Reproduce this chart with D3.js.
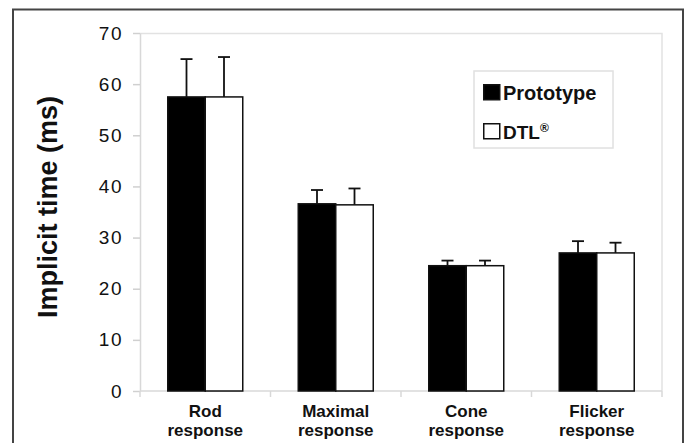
<!DOCTYPE html>
<html>
<head>
<meta charset="utf-8">
<script src="https://cdn.jsdelivr.net/npm/d3@7"></script>
<style>
  body { margin: 0; background: #fff; }
  svg { display: block; font-family: "Liberation Sans", Arial, sans-serif; }
</style>
</head>
<body>
<div id="chart"></div>
<script>
// Data
////////////////////////////////////////////////////////////////////
const categories = [["Rod", "response"], ["Maximal", "response"], ["Cone", "response"], ["Flicker", "response"]];
const series = ["Prototype", "DTL"];
const prototypeMean = [57.5, 36.6, 24.5, 27.0];
const prototypeErr = [64.9, 39.3, 25.5, 29.3];
const dtlMean = [57.5, 36.4, 24.5, 27.0];
const dtlErr = [65.3, 39.6, 25.5, 29.0];
const yTicks = [0, 10, 20, 30, 40, 50, 60, 70];

const rows = [];
categories.forEach((c, i) => {
  rows.push({ cat: i, s: "Prototype", v: prototypeMean[i], e: prototypeErr[i] });
  rows.push({ cat: i, s: "DTL", v: dtlMean[i], e: dtlErr[i] });
});

// Dimensions
////////////////////////////////////////////////////////////////////
const dimensions = {
  width: 688,
  height: 443,
  margin: { top: 33, left: 140, right: 26, bottom: 52 },
};
dimensions.ctrWidth = dimensions.width - dimensions.margin.left - dimensions.margin.right;
dimensions.ctrHeight = dimensions.height - dimensions.margin.top - dimensions.margin.bottom;

const svg = d3.select("#chart")
  .append("svg")
  .attr("width", dimensions.width)
  .attr("height", dimensions.height);

// outer frame (bottom is cut off in the original)
svg.append("path")
  .attr("d", "M13,450 V9.5 H683 V450")
  .attr("fill", "none")
  .attr("stroke", "#444")
  .attr("stroke-width", 2);

const ctr = svg.append("g")
  .attr("transform", `translate(${dimensions.margin.left}, ${dimensions.margin.top})`);

// Scales
////////////////////////////////////////////////////////////////////
const xScale = d3.scaleBand()
  .domain(d3.range(categories.length))
  .range([0, dimensions.ctrWidth]);

const groupW = 75;
const xInner = d3.scaleBand()
  .domain(series)
  .range([(xScale.bandwidth() - groupW) / 2, (xScale.bandwidth() + groupW) / 2]);

const yScale = d3.scaleLinear()
  .domain([0, 70])
  .range([dimensions.ctrHeight, 0]);

// plot area frame (top + right)
ctr.append("path")
  .attr("d", `M0,0.5 H${dimensions.ctrWidth} V${dimensions.ctrHeight}`)
  .attr("fill", "none")
  .attr("stroke", "#e2e2e2")
  .attr("stroke-width", 1.5);

// Axes
////////////////////////////////////////////////////////////////////
const yAxisGroup = ctr.append("g")
  .call(d3.axisLeft(yScale).tickValues(yTicks).tickSize(7).tickSizeOuter(0).tickPadding(10));
yAxisGroup.select(".domain").attr("stroke", "#d8d8d8").attr("stroke-width", 1.5);
yAxisGroup.selectAll(".tick line").attr("stroke", "#d0d0d0").attr("stroke-width", 1.5);
yAxisGroup.selectAll(".tick text")
  .attr("font-size", 19)
  .attr("letter-spacing", "1.5px")
  .attr("fill", "#111")
  .attr("font-family", "Liberation Sans, Arial, sans-serif");

// x axis line with boundary ticks
const xAxisGroup = ctr.append("g")
  .attr("transform", `translate(0,${dimensions.ctrHeight})`);
xAxisGroup.append("line")
  .attr("x1", 0).attr("x2", dimensions.ctrWidth)
  .attr("stroke", "#d8d8d8").attr("stroke-width", 1.5);
xAxisGroup.selectAll(".bound")
  .data(d3.range(categories.length + 1))
  .join("line")
  .attr("class", "bound")
  .attr("x1", (d) => d * xScale.step())
  .attr("x2", (d) => d * xScale.step())
  .attr("y1", 0).attr("y2", 6)
  .attr("stroke", "#d8d8d8").attr("stroke-width", 1.5);

xAxisGroup.selectAll(".cat")
  .data(categories)
  .join("text")
  .attr("class", "cat")
  .attr("text-anchor", "middle")
  .attr("font-size", 17)
  .attr("font-weight", "bold")
  .attr("fill", "#111")
  .attr("transform", (d, i) => `translate(${xScale(i) + xScale.bandwidth() / 2},0)`)
  .selectAll("tspan")
  .data((d) => d)
  .join("tspan")
  .attr("x", 0)
  .attr("y", (d, j) => 26 + j * 19)
  .text((d) => d);

// Y axis title
svg.append("text")
  .attr("transform", "translate(57,207) rotate(-90)")
  .attr("text-anchor", "middle")
  .attr("font-size", 27)
  .attr("font-weight", "bold")
  .attr("fill", "#111")
  .text("Implicit time (ms)");

// Bars
////////////////////////////////////////////////////////////////////
const barX = (d) => xScale(d.cat) + xInner(d.s);

ctr.append("g")
  .selectAll("rect")
  .data(rows)
  .join("rect")
  .attr("x", barX)
  .attr("y", (d) => yScale(d.v))
  .attr("width", xInner.bandwidth())
  .attr("height", (d) => yScale(0) - yScale(d.v))
  .attr("fill", (d) => (d.s === "Prototype" ? "#000" : "#fff"))
  .attr("stroke", "#111")
  .attr("stroke-width", 1.5);

// Error bars (upper only)
const errG = ctr.append("g")
  .attr("stroke", "#111")
  .attr("stroke-width", 1.8);
errG.selectAll(".err")
  .data(rows)
  .join("line")
  .attr("class", "err")
  .attr("x1", (d) => barX(d) + xInner.bandwidth() / 2)
  .attr("x2", (d) => barX(d) + xInner.bandwidth() / 2)
  .attr("y1", (d) => yScale(d.v))
  .attr("y2", (d) => yScale(d.e));
errG.selectAll(".cap")
  .data(rows)
  .join("line")
  .attr("class", "cap")
  .attr("x1", (d) => barX(d) + xInner.bandwidth() / 2 - 6)
  .attr("x2", (d) => barX(d) + xInner.bandwidth() / 2 + 6)
  .attr("y1", (d) => yScale(d.e))
  .attr("y2", (d) => yScale(d.e));

// Legend
////////////////////////////////////////////////////////////////////
const legend = svg.append("g").attr("transform", "translate(474,71)");
legend.append("rect")
  .attr("width", 139).attr("height", 77)
  .attr("fill", "#fff")
  .attr("stroke", "#e0e0e0").attr("stroke-width", 1.5);

const legendItems = legend.selectAll(".item")
  .data(series)
  .join("g")
  .attr("class", "item")
  .attr("transform", (d, i) => `translate(9,${13 + i * 39})`);
legendItems.append("rect")
  .attr("x", 0.75).attr("y", 0.75)
  .attr("width", 16).attr("height", 15)
  .attr("fill", (d) => (d === "Prototype" ? "#000" : "#fff"))
  .attr("stroke", "#111").attr("stroke-width", 1.5);
const lt = legendItems.append("text")
  .attr("x", 20).attr("y", 16)
  .attr("font-size", 20)
  .attr("font-weight", "bold")
  .attr("fill", "#111")
  .text((d) => d);
lt.filter((d) => d === "DTL")
  .attr("font-size", 19)
  .append("tspan")
  .attr("font-size", 12)
  .attr("dy", -7)
  .text("®");
</script>
</body>
</html>
